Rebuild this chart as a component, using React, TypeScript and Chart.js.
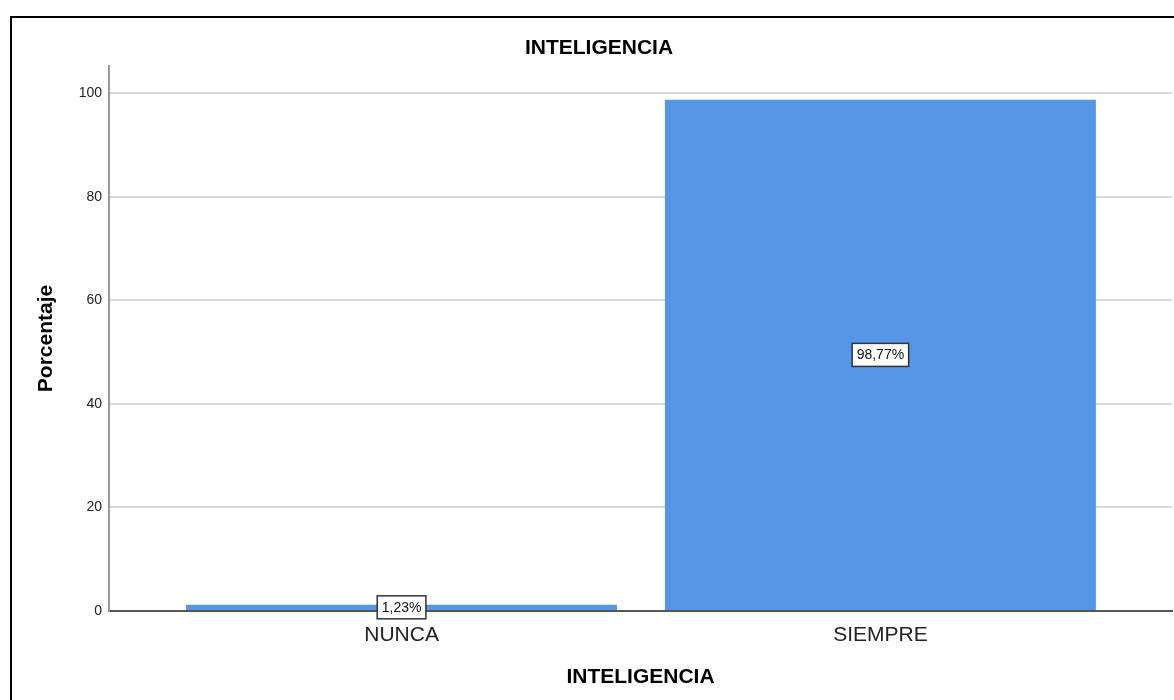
import React, { useEffect, useRef } from "react";
import { Chart, registerables } from "chart.js";

Chart.register(...registerables);

const categories: string[] = ["NUNCA", "SIEMPRE"];
const percentages: number[] = [1.23, 98.77];
const valueLabels: string[] = ["1,23%", "98,77%"];
const yTicks: number[] = [0, 20, 40, 60, 80, 100];
const chartTitle = "INTELIGENCIA";
const xTitle = "INTELIGENCIA";
const yTitle = "Porcentaje";

const FONT = "'Liberation Sans', Arial, sans-serif";

const overlayPlugin = {
  id: "overlay",
  afterDatasetsDraw(chart: any) {
    const ctx = chart.ctx;
    const meta = chart.getDatasetMeta(0);
    ctx.save();
    ctx.font = `14px ${FONT}`;
    ctx.textAlign = "center";
    ctx.textBaseline = "middle";
    meta.data.forEach((bar: any, i: number) => {
      const cx = bar.x;
      const cy = (bar.y + bar.base) / 2;
      const text = valueLabels[i];
      const w = ctx.measureText(text).width + 9;
      const h = 23;
      ctx.fillStyle = "#ffffff";
      ctx.fillRect(cx - w / 2, cy - h / 2, w, h);
      ctx.lineWidth = 1.5;
      ctx.strokeStyle = "#333333";
      ctx.strokeRect(cx - w / 2, cy - h / 2, w, h);
      ctx.fillStyle = "#111111";
      ctx.fillText(text, cx, cy + 0.5);
    });
    ctx.restore();
  },
  afterDraw(chart: any) {
    const ctx = chart.ctx;
    const area = chart.chartArea;
    ctx.save();
    ctx.lineWidth = 2;
    ctx.strokeStyle = "#000000";
    ctx.strokeRect(11, 17, 1400, 1000);
    ctx.fillStyle = "#000000";
    ctx.font = `bold 21px ${FONT}`;
    ctx.textAlign = "center";
    ctx.textBaseline = "middle";
    ctx.fillText(chartTitle, 599, 48);
    ctx.fillText(xTitle, (area.left + area.right) / 2, 677);
    ctx.translate(46.5, (area.top + area.bottom) / 2);
    ctx.rotate(-Math.PI / 2);
    ctx.fillText(yTitle, 0, 0);
    ctx.restore();
  },
};

export default function App() {
  const ref = useRef<HTMLCanvasElement | null>(null);

  useEffect(() => {
    if (!ref.current) return;
    const chart = new Chart(ref.current, {
      type: "bar",
      data: {
        datasets: [
          {
            data: percentages.map((v, i) => ({ x: i, y: v })),
            backgroundColor: "#5596e6",
            borderWidth: 0,
            barPercentage: 0.9,
            categoryPercentage: 1,
          },
        ],
      },
      options: {
        responsive: false,
        animation: false,
        layout: { padding: { top: 66, right: 2, left: 0, bottom: 0 } },
        plugins: {
          legend: { display: false },
          title: { display: false },
          tooltip: { enabled: false },
        },
        scales: {
          x: {
            type: "linear",
            offset: false,
            min: -0.611,
            max: 1.609,
            afterBuildTicks: (s: any) => {
              s.ticks = categories.map((_, i) => ({ value: i }));
            },
            afterFit: (s: any) => {
              s.height = 89;
            },
            grid: { display: false, drawTicks: false, offset: false },
            border: { display: true, color: "#555555", width: 2 },
            ticks: {
              padding: 12,
              color: "#222222",
              font: { family: FONT, size: 21 },
              callback: (v: any) => categories[v as number] ?? "",
            },
          },
          y: {
            type: "linear",
            min: 0,
            max: 105.3,
            afterBuildTicks: (s: any) => {
              s.ticks = yTicks.map((v) => ({ value: v }));
            },
            afterFit: (s: any) => {
              s.width = 109;
            },
            grid: { color: "#d9d9d9", lineWidth: 2, drawTicks: false },
            border: { display: true, color: "#999999", width: 2 },
            ticks: {
              padding: 7,
              color: "#222222",
              font: { family: FONT, size: 14 },
            },
          },
        },
      },
      plugins: [overlayPlugin],
    });
    return () => chart.destroy();
  }, []);

  return (
    <div style={{ position: "absolute", left: 0, top: 0, width: 1174, height: 700, background: "#ffffff" }}>
      <canvas ref={ref} width={1174} height={700} style={{ display: "block" }} />
    </div>
  );
}
